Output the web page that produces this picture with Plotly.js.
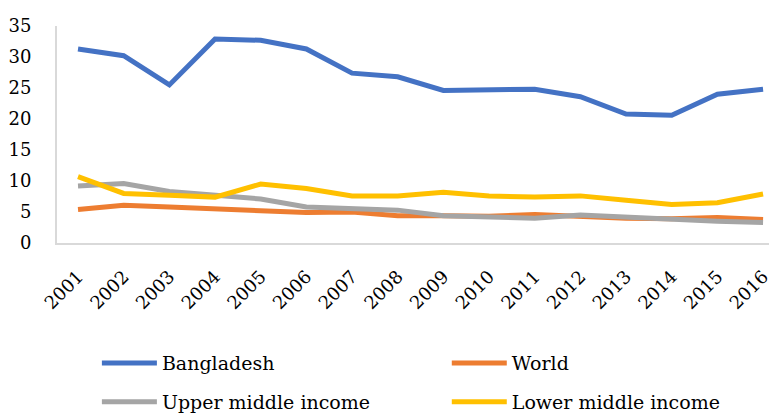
<!DOCTYPE html>
<html>
<head>
<meta charset="utf-8">
<script src="https://cdn.plot.ly/plotly-3.0.1.min.js"></script>
<style>
  html, body { margin: 0; padding: 0; background: #ffffff; }
  #chart { width: 769px; height: 413px; }
</style>
</head>
<body>
<div id="chart"></div>
<script>
// Years on the category axis
const years = ['2001', '2002', '2003', '2004', '2005', '2006', '2007', '2008',
               '2009', '2010', '2011', '2012', '2013', '2014', '2015', '2016'];

// Series values
const bangladesh = [31.3, 30.2, 25.5, 32.9, 32.7, 31.3, 27.4, 26.8,
                    24.6, 24.6, 24.8, 23.6, 20.8, 20.6, 24.0, 24.8];
const world = [5.4, 6.1, 5.8, 5.5, 5.4, 4.9, 5.0, 4.4,
               4.4, 4.3, 4.6, 4.2, 4.0, 3.9, 4.1, 3.8];
const upperMiddle = [9.2, 9.6, 8.3, 7.6, 7.1, 5.8, 5.6, 5.3,
                     4.4, 4.2, 4.0, 4.5, 4.1, 3.7, 3.5, 3.3];
const lowerMiddle = [10.7, 8.0, 7.7, 7.4, 9.5, 8.8, 7.6, 7.6,
                     8.2, 7.6, 7.4, 7.6, 6.9, 6.2, 6.5, 7.9];

const yTicks = [0, 5, 10, 15, 20, 25, 30, 35];

const font = "'DejaVu Serif', serif";

function series(name, values, color, legend) {
  return {
    type: 'scatter',
    mode: 'lines',
    name: name,
    x: years,
    y: values,
    line: { color: color, width: 5 },
    legend: legend
  };
}

// One legend per entry so the 2x2 grid sits exactly where wanted
const data = [
  series('Bangladesh', bangladesh, '#4472C4', 'legend'),
  series('World', world, '#ED7D31', 'legend2'),
  series('Upper middle income', upperMiddle, '#A5A5A5', 'legend3'),
  series('Lower middle income', lowerMiddle, '#FFC000', 'legend4')
];

function legendAt(x, y) {
  return {
    orientation: 'h',
    xref: 'container',
    yref: 'container',
    x: x,
    y: y,
    xanchor: 'left',
    yanchor: 'middle',
    itemwidth: 55,
    font: { family: font, size: 19, color: '#000000' },
    bgcolor: 'rgba(0,0,0,0)'
  };
}

const layout = {
  width: 769,
  height: 413,
  margin: { l: 57, r: 0, t: 26, b: 170, autoexpand: false },
  paper_bgcolor: '#ffffff',
  plot_bgcolor: '#ffffff',
  showlegend: true,
  font: { family: font, color: '#000000' },
  xaxis: {
    type: 'category',
    range: [-0.46, 15.13],
    tickangle: -45,
    tickfont: { family: font, size: 18, color: '#000000' },
    ticklabelstandoff: 14,
    showgrid: false,
    zeroline: false,
    showline: true,
    linecolor: '#d9d9d9',
    linewidth: 2,
    ticks: '',
    automargin: false
  },
  yaxis: {
    range: [0, 35],
    tickvals: yTicks,
    ticktext: yTicks.map(String),
    tickfont: { family: font, size: 18, color: '#000000' },
    ticklabelstandoff: 20,
    showgrid: false,
    zeroline: false,
    showline: true,
    linecolor: '#d9d9d9',
    linewidth: 2,
    ticks: '',
    automargin: false
  },
  legend: legendAt(0.126, 0.121),
  legend2: legendAt(0.581, 0.121),
  legend3: legendAt(0.126, 0.0266),
  legend4: legendAt(0.581, 0.0266)
};

Plotly.newPlot('chart', data, layout, { staticPlot: true, displayModeBar: false });
</script>
</body>
</html>
